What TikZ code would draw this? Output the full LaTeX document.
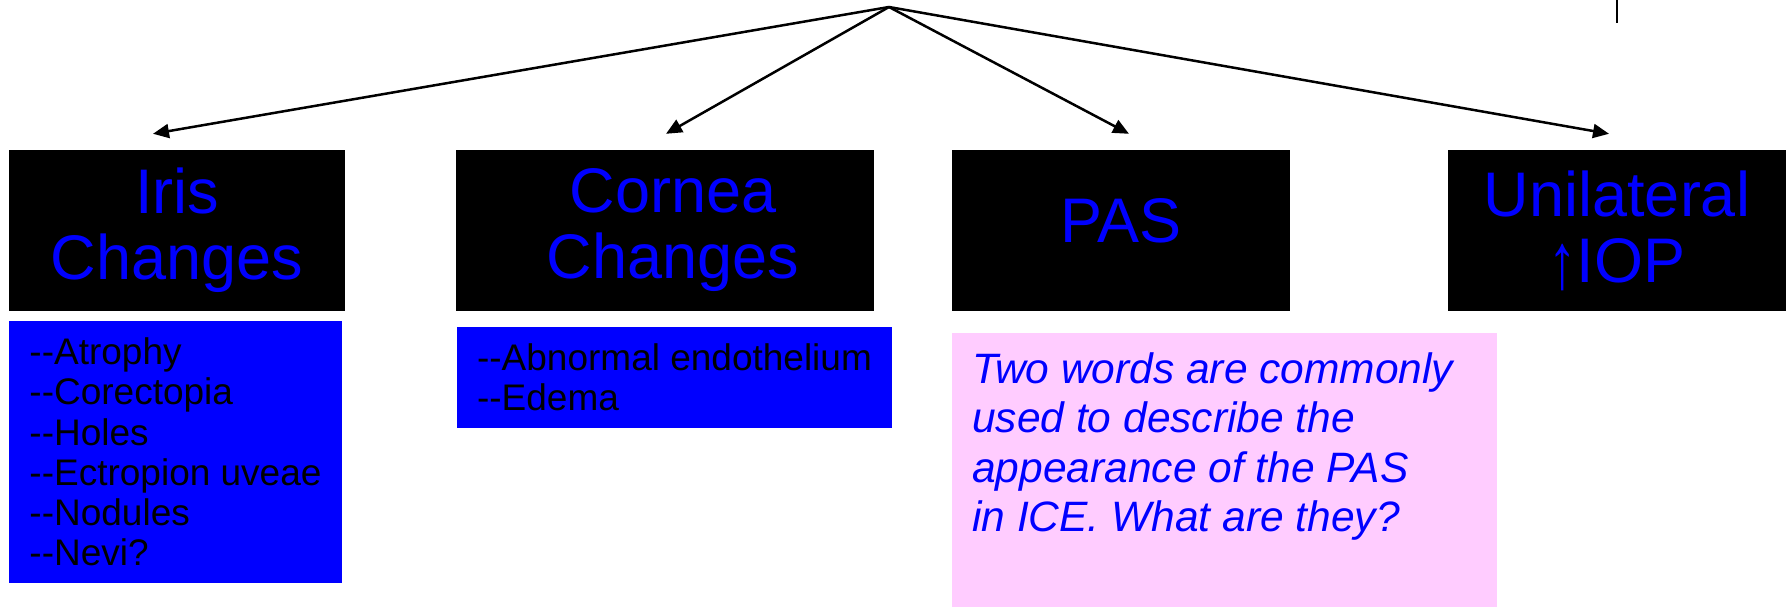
\documentclass[tikz,border=0pt]{standalone}
\usepackage{fontspec}
\setmainfont{Liberation Sans}
\usepackage{tikz}
\usetikzlibrary{arrows.meta,positioning}
\definecolor{notepink}{RGB}{255,204,255}
\newcommand\dashes{-\kern0pt-}
\tikzset{
  headbox/.style={fill=black, text=blue, inner sep=0pt, minimum height=161pt,
    align=center, font=\fontsize{63}{66}\selectfont},
  listbox/.style={fill=blue, text=black, inner sep=0pt, align=left,
    font=\fontsize{37}{40.2}\selectfont},
  notebox/.style={fill=notepink, inner sep=0pt, anchor=north west},
  notetext/.style={text=blue, inner sep=0pt, anchor=north west, align=left,
    font=\fontsize{42.5}{49.5}\selectfont\itshape},
  branch/.style={line width=2.5pt, -{Triangle[length=16pt,width=14pt]}},
}

\begin{document}
\begin{tikzpicture}[x=1pt,y=-1pt]
    \useasboundingbox (0,0) rectangle (1788,607);
    % Sommet
    \coordinate (top) at (889,7);
    % Titres
    \node[headbox, minimum width=336pt] (iris) at (177,230.5) {Iris\\Changes};
    \node[headbox, minimum width=418pt] (cornea) at (665,230.5)
      {\hspace*{16pt}Cornea\\\hspace*{16pt}Changes};
    \node[headbox, minimum width=338pt, text depth=20pt] (pas) at (1121,230.5) {PAS};
    \node[headbox, minimum width=338pt] (unilat) at (1617,230.5)
      {Unilateral\\\raisebox{-6pt}{\scalebox{0.9}[1.25]{↑}}IOP};
    % Listes
    \node[listbox, minimum width=333pt, minimum height=262pt] (irislist) at (175.5,452)
      {\dashes Atrophy\\\dashes Corectopia\\\dashes Holes\\\dashes Ectropion uveae\\\dashes Nodules\\\dashes Nevi?};
    \node[listbox, minimum width=435pt, minimum height=101pt] (cornealist) at (674.5,377.5)
      {\dashes Abnormal endothelium\\\dashes Edema};
    % Question
    \node[notebox, minimum width=545pt, minimum height=280pt] (note) at (952,333) {};
    \node[notetext] (question) at (972,352)
      {Two words are commonly\\used to describe the\\appearance of the PAS\\in ICE. What are they?};
    % Fleches
    \draw[branch] (top) -- ([xshift=-24pt,yshift=16pt]iris.north);
    \draw[branch] (top) -- ([xshift=1pt,yshift=16pt]cornea.north);
    \draw[branch] (top) -- ([xshift=8pt,yshift=16pt]pas.north);
    \draw[branch] (top) -- ([xshift=-8pt,yshift=16pt]unilat.north);
    \draw[line width=2.5pt] (unilat.north |- 0,0) -- (unilat.north |- 0,23);
\end{tikzpicture}
\end{document}
